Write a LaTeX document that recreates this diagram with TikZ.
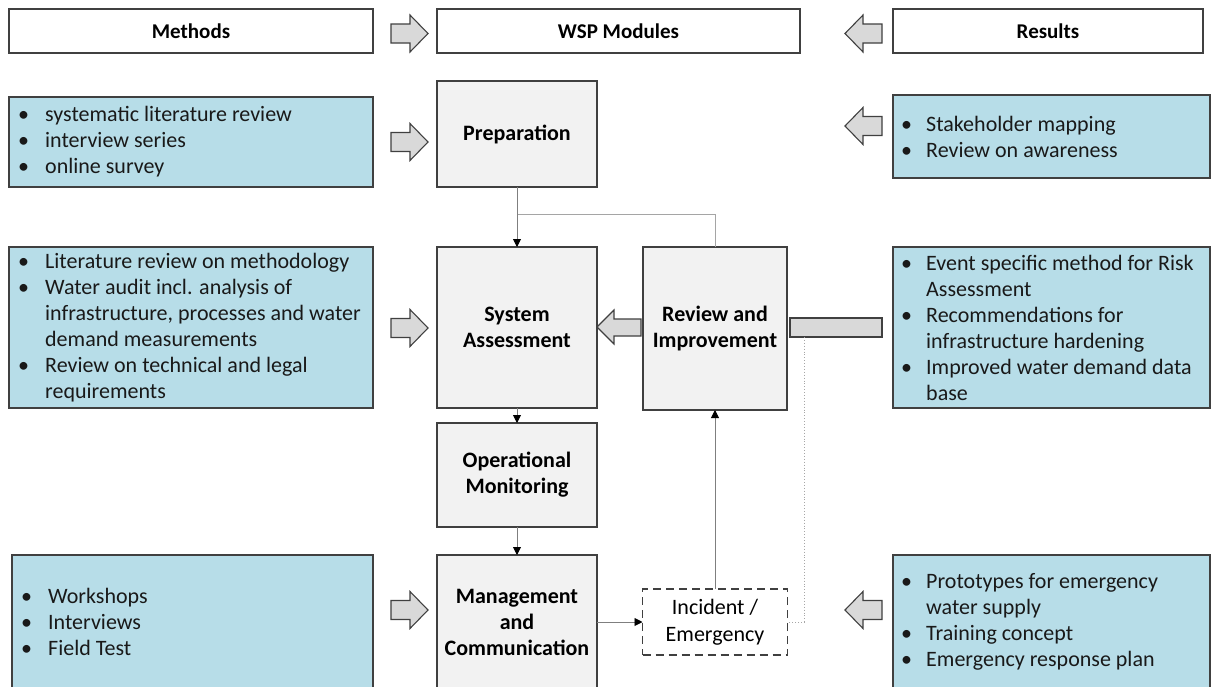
\documentclass[tikz,border=0pt]{standalone}
\usepackage{fontspec}
\setmainfont{Carlito}
\usetikzlibrary{arrows.meta}
\definecolor{bluefill}{HTML}{B7DDE8}
\definecolor{modfill}{HTML}{F2F2F2}
\definecolor{edge}{HTML}{404040}
\definecolor{arrfill}{HTML}{D9D9D9}
\definecolor{lineg}{HTML}{7F7F7F}
\newcommand\bi[1]{\makebox[27pt][l]{\textbullet}#1}
\newcommand\bc[1]{\hspace*{27pt}#1}
\newcommand\bir[1]{\makebox[25pt][l]{\textbullet}#1}
\newcommand\bcr[1]{\hspace*{25pt}#1}
\newcommand\arrR[2]{\draw[barrow] (#1,#2-9.5) -- ++(19,0) -- ++(0,-9) -- ++(18,18.5) -- ++(-18,18.5) -- ++(0,-9) -- ++(-19,0) -- cycle;}
\newcommand\arrL[2]{\draw[barrow] (#1,#2) -- ++(18,-18.5) -- ++(0,9) -- ++(19,0) -- ++(0,19) -- ++(-19,0) -- ++(0,9) -- cycle;}
\tikzset{
  base/.style={draw=edge, line width=1.2pt, inner sep=0pt, outer sep=0pt},
  header/.style={base, fill=white, minimum width=364pt, minimum height=44pt, font=\fontsize{21}{24}\selectfont\bfseries},
  module/.style={base, fill=modfill, align=center, font=\fontsize{22}{26}\selectfont\bfseries},
  incident/.style={base, dashed, dash pattern=on 8pt off 5pt, fill=white, align=center, font=\fontsize{22}{27}\selectfont},
  bluebox/.style={base, fill=bluefill},
  btext/.style={anchor=west, inner sep=0pt, align=left, font=\fontsize{22}{26}\selectfont, text=black!90},
  barrow/.style={draw=edge, line width=1.1pt, fill=arrfill, line join=miter},
  conn/.style={draw=lineg, line width=0.9pt, -{Triangle[length=8pt,width=8pt,fill=black,color=black]}},
  connline/.style={draw=lineg!70, line width=0.9pt},
  dotline/.style={draw=black!35, line width=0.9pt, dotted},
}
\begin{document}
\begin{tikzpicture}[x=1pt,y=-1pt]
\useasboundingbox[fill=white] (0,0) rectangle (1211,686);
% headers
\node[header] (hm) at (191,31) {Methods};
\node[header, minimum width=363pt] (hw) at (618.5,31) {WSP Modules};
\node[header, minimum width=310pt] (hr) at (1048,31) {Results};
% block arrows in header row
\arrR{391}{33.5}
\arrL{845}{33.5}
% modules
\node[module, minimum width=160pt, minimum height=106pt] (prep) at (517,134) {Preparation};
\node[module, minimum width=160pt, minimum height=161pt] (sys) at (517,327.5) {System\\Assessment};
\node[module, minimum width=144pt, minimum height=163pt] (rev) at (715,328.5) {Review and\\Improvement};
\node[module, minimum width=160pt, minimum height=104pt] (op) at (517,475) {Operational\\Monitoring};
\node[module, minimum width=160pt, minimum height=134pt] (mgmt) at (517,622) {Management\\and\\Communication};
\node[incident, minimum width=145pt, minimum height=66pt] (inc) at (715,622) {Incident /\\Emergency};
% method boxes
\node[bluebox, minimum width=364pt, minimum height=90pt] (m1) at (191,142) {};
\node[btext] (m1t) at ([xshift=9pt]m1.west) {\bi{systematic literature review}\\\bi{interview series}\\\bi{online survey}};
\node[bluebox, minimum width=364pt, minimum height=161pt] (m2) at (191,327.5) {};
\node[btext] (m2t) at ([xshift=9pt]m2.west) {\bi{Literature review on methodology}\\\bi{Water audit incl. analysis of}\\\bc{infrastructure, processes and water}\\\bc{demand measurements}\\\bi{Review on technical and legal}\\\bc{requirements}};
\node[bluebox, minimum width=361pt, minimum height=134pt] (m3) at (192.5,622) {};
\node[btext] (m3t) at ([xshift=9pt]m3.west) {\bi{Workshops}\\\bi{Interviews}\\\bi{Field Test}};
% result boxes
\node[bluebox, minimum width=317pt, minimum height=83pt] (r1) at (1051.5,136.5) {};
\node[btext] (r1t) at ([xshift=8pt]r1.west) {\bir{Stakeholder mapping}\\\bir{Review on awareness}};
\node[bluebox, minimum width=317pt, minimum height=161pt] (r2) at (1051.5,327.5) {};
\node[btext] (r2t) at ([xshift=8pt]r2.west) {\bir{Event specific method for Risk}\\\bcr{Assessment}\\\bir{Recommendations for}\\\bcr{infrastructure hardening}\\\bir{Improved water demand data}\\\bcr{base}};
\node[bluebox, minimum width=317pt, minimum height=134pt] (r3) at (1051.5,622) {};
\node[btext] (r3t) at ([xshift=8pt]r3.west) {\bir{Prototypes for emergency}\\\bcr{water supply}\\\bir{Training concept}\\\bir{Emergency response plan}};
% block arrows between columns
\arrR{391}{142}
\arrL{845}{126}
\arrR{391}{328}
\arrR{391}{610}
\arrL{845}{610}
% big arrow review -> system
\draw[barrow] (597,327) -- (614,310) -- (614,319) -- (641,319) -- (641,336) -- (614,336) -- (614,344) -- cycle;
% grey bar
\node[base, draw=edge, fill=arrfill, minimum width=92pt, minimum height=19pt] (bar) at (836,327.5) {};
% connectors
\coordinate (j) at (517,214);
\coordinate (d) at (804,337);
\draw[connline] (rev.north) |- (j);
\draw[conn] (prep.south) -- (sys.north);
\draw[conn] (sys.south) -- (op.north);
\draw[conn] (op.south) -- (mgmt.north);
\draw[conn] (mgmt.east) -- (inc.west);
\draw[conn] (inc.north) -- (rev.south);
\draw[dotline] (d) |- (inc.east);
\end{tikzpicture}
\end{document}
